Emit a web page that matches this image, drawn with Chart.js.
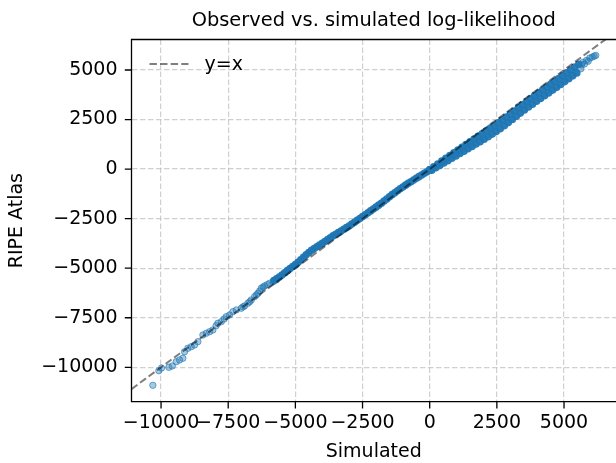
<!DOCTYPE html>
<html lang="en">
<head>
<meta charset="UTF-8">
<title>Observed vs. simulated log-likelihood</title>
<script src="https://cdn.jsdelivr.net/npm/chart.js"></script>
<style>
    body { margin: 0; background: #fff; }
    canvas { display: block; }
</style>
</head>
<body>
<canvas id="llChart" width="616" height="463"></canvas>
<script>
    const chartTitle = 'Observed vs. simulated log-likelihood';
    const legendLabel = 'y=x';
    const tickValues = [-10000, -7500, -5000, -2500, 0, 2500, 5000];
    const xRange = [-11100, 6935];
    const yRange = [-11736, 6539];
    const identityEnds = [-11100, 6935];

    // sparse lower-left part of the scatter
    const lowSimX = [-10305, -10082, -9981, -9709, -9583, -9434, -9311, -9188, -9125, -9002, -8875, -8752, -8629,
        -8443, -8317, -8194, -8071, -7950, -7885, -7758, -7650, -7572, -7449, -7326, -7200, -7013, -6950, -6890,
        -6767, -6700, -6641, -6518, -6450, -6395, -6330, -6268, -6200, -6145, -6050, -5959, -5830, -5710];
    const lowObsY = [-10909, -10172, -10035, -10000, -9934, -9717, -9631, -9545, -9212, -9040, -8960, -8874, -8707,
        -8369, -8283, -8202, -8116, -7900, -7778, -7697, -7560, -7444, -7359, -7192, -7106, -7020, -6950, -6904,
        -6768, -6690, -6601, -6434, -6350, -6263, -6150, -6010, -5950, -5894, -5830, -5758, -5680, -5591];

    // dense middle part
    const midSimX = [-5800, -5700, -5600, -5500, -5400, -5300, -5200, -5100, -5000, -4900, -4800, -4700, -4600,
        -4500, -4400, -4300, -4200, -4100, -4000, -3900, -3800, -3700, -3600, -3500, -3400, -3300, -3200, -3100,
        -3000, -2900, -2800, -2700, -2600, -2500, -2400, -2300, -2200, -2100, -2000, -1900, -1800, -1700, -1600,
        -1500, -1400, -1300, -1200, -1100, -1000, -900, -800, -700, -600, -500, -400, -300, -200, -100, 0];
    const midObsY = [-5620, -5530, -5450, -5340, -5230, -5125, -5020, -4920, -4820, -4700, -4580, -4450, -4320,
        -4210, -4100, -4010, -3920, -3835, -3750, -3655, -3560, -3465, -3370, -3285, -3200, -3120, -3040, -2955,
        -2870, -2775, -2680, -2585, -2490, -2395, -2300, -2205, -2110, -2015, -1920, -1820, -1720, -1615, -1510,
        -1400, -1290, -1190, -1090, -995, -900, -810, -720, -635, -550, -465, -380, -295, -210, -130, -50];

    // upper-right part: the band widens, read as its upper and lower edge
    const upperEdgeX = [0, 150, 300, 450, 600, 750, 900, 1050, 1200, 1350, 1500, 1650, 1800, 1950, 2100, 2250,
        2400, 2550, 2700, 2850, 3000, 3150, 3300, 3450, 3600, 3750, 3900, 4050, 4200, 4350, 4500, 4650, 4800,
        4950, 5100, 5250, 5400, 5550];
    const upperEdgeY = [-20, 120, 260, 400, 540, 680, 820, 960, 1100, 1240, 1380, 1515, 1650, 1785, 1920, 2055,
        2190, 2330, 2475, 2625, 2780, 2935, 3090, 3245, 3400, 3550, 3695, 3840, 3985, 4130, 4275, 4420, 4565,
        4710, 4855, 5000, 5145, 5290];
    const lowerEdgeX = [75, 225, 375, 525, 675, 825, 975, 1125, 1275, 1425, 1575, 1725, 1875, 2025, 2175, 2325,
        2475, 2625, 2775, 2925, 3075, 3225, 3375, 3525, 3675, 3825, 3975, 4125, 4275, 4425, 4575, 4725, 4875,
        5025, 5175, 5325, 5475];
    const lowerEdgeY = [-55, 65, 185, 305, 425, 545, 665, 785, 905, 1025, 1145, 1265, 1385, 1505, 1635, 1765,
        1895, 2035, 2185, 2345, 2505, 2665, 2825, 2980, 3130, 3275, 3420, 3565, 3705, 3845, 3985, 4125, 4270,
        4415, 4560, 4705, 4855];

    // faint tail at the top end
    const tailSimX = [5625, 5650, 5700, 5760, 5836, 5900, 5959, 6050, 6120, 6183];
    const tailObsY = [5060, 5250, 5384, 5300, 5485, 5440, 5606, 5650, 5700, 5737];

    function toPoints(xs, ys) {
        return xs.map((x, i) => ({ x: x, y: ys[i] }));
    }

    function fmtTick(v) {
        return v < 0 ? '\u2212' + Math.abs(v) : String(v);
    }

    const font19 = { family: 'DejaVu Sans', size: 19 };

    // frame, tick marks, title and the in-plot legend, matplotlib style
    const decorations = {
        id: 'decorations',
        afterDraw(chart) {
            const { ctx, chartArea: a, scales: { x, y } } = chart;
            ctx.save();
            ctx.strokeStyle = '#000';
            ctx.lineWidth = 1.3;
            ctx.beginPath();
            ctx.moveTo(a.right, a.top);
            ctx.lineTo(a.left, a.top);
            ctx.lineTo(a.left, a.bottom);
            ctx.lineTo(a.right, a.bottom);
            ctx.stroke();

            ctx.beginPath();
            tickValues.forEach(v => {
                const px = x.getPixelForValue(v);
                ctx.moveTo(px, a.bottom);
                ctx.lineTo(px, a.bottom + 6.7);
                const py = y.getPixelForValue(v);
                ctx.moveTo(a.left, py);
                ctx.lineTo(a.left - 6.7, py);
            });
            ctx.stroke();

            ctx.fillStyle = '#000';
            ctx.font = '19.4px "DejaVu Sans"';
            ctx.textAlign = 'center';
            ctx.textBaseline = 'middle';
            ctx.fillText(chartTitle, (a.left + a.right) / 2, 21);

            ctx.font = '19px "DejaVu Sans"';
            ctx.strokeStyle = 'rgba(0,0,0,0.5)';
            ctx.lineWidth = 2;
            ctx.setLineDash([7.4, 3.2]);
            ctx.beginPath();
            ctx.moveTo(a.left + 18, 64);
            ctx.lineTo(a.left + 57, 64);
            ctx.stroke();
            ctx.setLineDash([]);
            ctx.textAlign = 'left';
            ctx.fillText(legendLabel, a.left + 73, 65);
            ctx.restore();
        }
    };

    const gridOpts = { color: 'rgba(176,176,176,0.6)', lineWidth: 1.2, drawTicks: false };
    const borderOpts = { display: false, dash: [5.5, 2.5] };

    new Chart(document.getElementById('llChart'), {
        type: 'scatter',
        data: {
            datasets: [
                {
                    type: 'line',
                    label: legendLabel,
                    data: toPoints(identityEnds, identityEnds),
                    borderColor: 'rgba(0,0,0,0.5)',
                    borderWidth: 2,
                    borderDash: [7.4, 3.2],
                    pointRadius: 0,
                    fill: false
                },
                {
                    label: 'dense',
                    data: toPoints(midSimX, midObsY)
                        .concat(toPoints(upperEdgeX, upperEdgeY))
                        .concat(toPoints(lowerEdgeX, lowerEdgeY)),
                    pointBackgroundColor: 'rgba(31,119,180,0.96)',
                    pointBorderWidth: 0,
                    pointRadius: 3.8
                },
                {
                    label: 'sparse',
                    data: toPoints(lowSimX, lowObsY).concat(toPoints(tailSimX, tailObsY)),
                    pointBackgroundColor: 'rgba(31,119,180,0.4)',
                    pointBorderColor: 'rgba(31,119,180,0.6)',
                    pointBorderWidth: 1,
                    pointRadius: 3.2
                }
            ]
        },
        options: {
            responsive: false,
            animation: false,
            layout: { autoPadding: false, padding: { top: 39.5, left: 0, right: 0, bottom: 0 } },
            plugins: {
                legend: { display: false },
                tooltip: { enabled: false }
            },
            scales: {
                x: {
                    type: 'linear',
                    min: xRange[0],
                    max: xRange[1],
                    afterBuildTicks: s => { s.ticks = tickValues.map(v => ({ value: v })); },
                    afterFit: s => { s.height = 61.3; s.paddingLeft = 0; s.paddingRight = 0; },
                    ticks: { callback: fmtTick, color: '#000', font: font19, padding: 10, maxRotation: 0, autoSkip: false },
                    grid: gridOpts,
                    border: borderOpts,
                    title: { display: true, text: 'Simulated', color: '#000', font: font19, padding: { top: 0, bottom: 0 } }
                },
                y: {
                    type: 'linear',
                    min: yRange[0],
                    max: yRange[1],
                    afterBuildTicks: s => { s.ticks = tickValues.map(v => ({ value: v })); },
                    afterFit: s => { s.width = 131.5; s.paddingTop = 0; s.paddingBottom = 0; },
                    ticks: { callback: fmtTick, color: '#000', font: font19, padding: 14, autoSkip: false },
                    grid: gridOpts,
                    border: borderOpts,
                    title: { display: true, text: 'RIPE Atlas', color: '#000', font: font19, padding: { top: 6, bottom: 0 } }
                }
            }
        },
        plugins: [decorations]
    });
</script>
</body>
</html>
